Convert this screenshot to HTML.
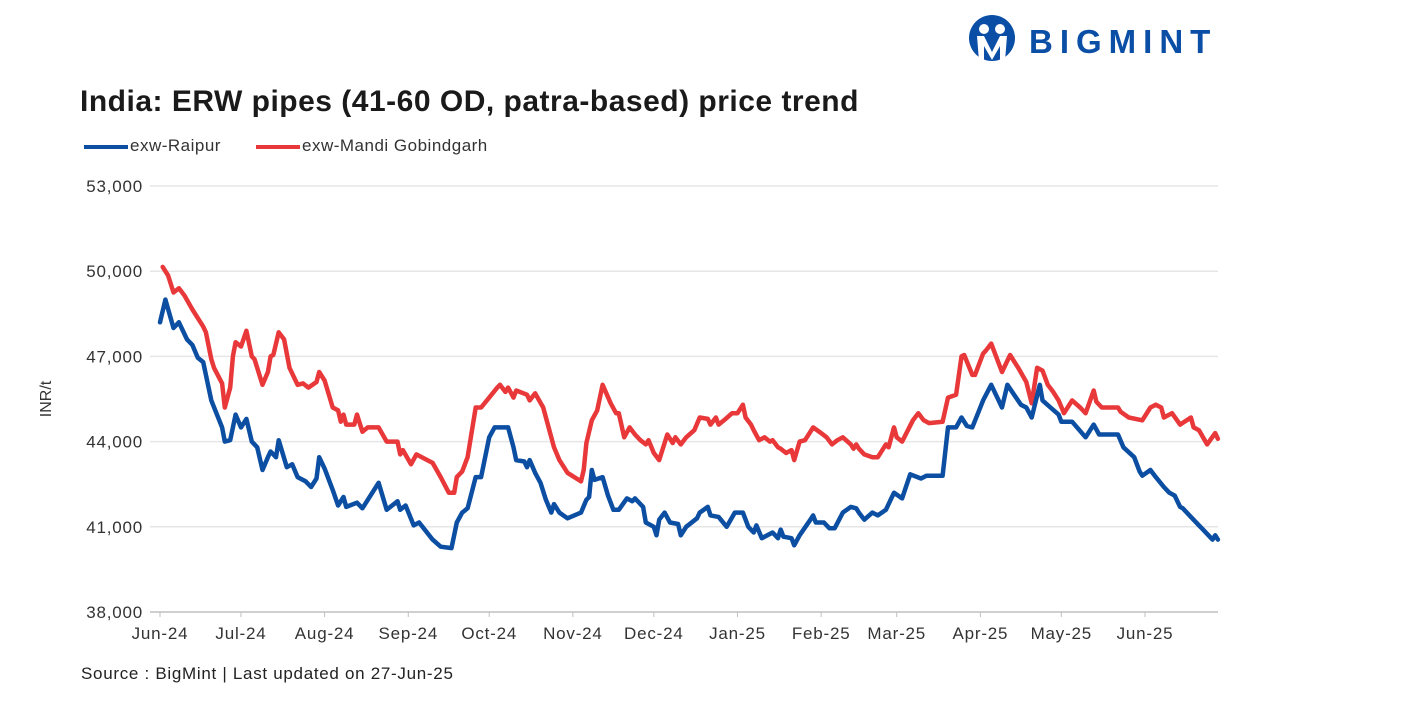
<!DOCTYPE html>
<html><head><meta charset="utf-8">
<style>
body{margin:0;background:#fff;width:1417px;height:709px;overflow:hidden;font-family:"Liberation Sans",Arial,sans-serif;}
#root{position:relative;width:1417px;height:709px;}
.abs{position:absolute;white-space:nowrap;}
</style></head><body>
<div id="root">
<div class="abs" style="left:968px;top:14px;width:260px;height:48px;">
<svg width="260" height="48">
<circle cx="24" cy="24" r="23" fill="#0a4ea6"/>
<circle cx="16" cy="15" r="5" fill="#fff"/><circle cx="32" cy="15" r="5" fill="#fff"/>
<path d="M9 22 L16 22 L24 38 L32 22 L39 22 L37 47 L32 47 L32 32 L24 46 L16 32 L16 47 L11 47 Z" fill="#fff"/>
<text x="61" y="39" font-family="Liberation Sans, sans-serif" font-weight="bold" font-size="33" fill="#0a4ea6" letter-spacing="7">BIGMINT</text>
</svg></div>
<div class="abs" style="left:80px;top:85px;font-size:30px;letter-spacing:0.5px;font-weight:bold;color:#1a1a1a;">India: ERW pipes (41-60 OD, patra-based) price trend</div>
<div class="abs" style="left:84px;top:136px;font-size:17px;letter-spacing:0.5px;color:#333;">
<span style="display:inline-block;width:44px;height:4px;background:#0b4ea2;vertical-align:middle;margin-right:2px;"></span>exw-Raipur</div>
<div class="abs" style="left:256px;top:136px;font-size:17px;letter-spacing:0.5px;color:#333;">
<span style="display:inline-block;width:44px;height:4px;background:#e8383a;vertical-align:middle;margin-right:2px;"></span>exw-Mandi Gobindgarh</div>
<div class="abs" style="left:29px;top:390px;font-size:16px;color:#333;transform:rotate(-90deg);">INR/t</div>
<svg id="chart" class="abs" style="left:0;top:0;" width="1417" height="709"></svg>
<div class="abs" style="left:81px;top:664px;font-size:17px;letter-spacing:0.7px;color:#222;">Source : BigMint | Last updated on 27-Jun-25</div>
</div>
<script>
const yTicks=[38000,41000,44000,47000,50000,53000];
const yTickLabels=["38,000","41,000","44,000","47,000","50,000","53,000"];
const xTickDays=[0,30,61,92,122,153,183,214,245,273,304,334,365];
const xTickLabels=["Jun-24","Jul-24","Aug-24","Sep-24","Oct-24","Nov-24","Dec-24","Jan-25","Feb-25","Mar-25","Apr-25","May-25","Jun-25"];
const raipurDays=[0,2,5,7,10,12,14,16,19,23,24,26,28,30,32,34,36,38,40,41,43,44,47,49,51,54,56,58,59,61,64,66,68,69,73,75,81,84,88,89,91,94,96,101,104,108,110,112,114,117,119,122,124,129,131,132,135,136,137,139,141,143,145,146,148,151,156,158,159,160,161,164,166,168,170,173,175,176,179,180,183,184,185,187,189,192,193,195,199,200,203,204,207,210,213,216,218,220,221,223,227,229,230,231,234,235,237,241,242,243,246,248,250,253,256,258,259,261,264,266,269,272,275,278,282,284,290,292,295,297,299,301,305,308,312,314,319,321,323,326,327,330,333,334,338,343,346,348,355,357,361,363,364,367,369,372,374,376,378,379,382,385,386,390,391,392];
const raipurValues=[48200,49000,48000,48200,47600,47400,46950,46800,45450,44500,44000,44050,44950,44500,44800,44000,43800,43000,43450,43650,43450,44050,43100,43200,42750,42600,42400,42700,43450,43050,42300,41750,42050,41700,41850,41650,42550,41600,41900,41600,41750,41050,41150,40550,40300,40250,41150,41500,41650,42750,42750,44150,44500,44500,43800,43350,43300,43100,43350,42900,42550,41950,41500,41800,41500,41300,41500,41950,42050,43000,42650,42750,42100,41600,41600,42000,41900,42000,41700,41150,41000,40700,41250,41500,41150,41100,40700,41000,41300,41500,41700,41400,41350,41000,41500,41500,41000,40800,41050,40600,40800,40600,40900,40650,40600,40350,40700,41250,41400,41150,41150,40950,40950,41500,41700,41650,41500,41250,41500,41400,41600,42200,42000,42850,42700,42800,42800,44500,44500,44850,44550,44500,45450,46000,45200,46000,45300,45200,44850,46000,45450,45200,44950,44700,44700,44150,44600,44250,44250,43800,43450,42950,42800,43000,42750,42400,42200,42100,41700,41650,41350,41050,40950,40550,40700,40550];
const mandiDays=[1,3,5,7,9,12,14,16,17,19,20,23,24,26,27,28,30,32,34,35,38,40,41,42,44,46,48,51,53,55,58,59,61,64,66,67,68,69,72,73,75,77,81,84,88,89,90,93,95,97,101,104,107,109,110,112,114,117,119,122,125,126,128,129,131,132,136,137,139,142,144,146,148,151,156,157,158,160,162,164,167,169,170,172,174,176,178,180,181,183,185,186,188,190,191,193,195,198,200,203,204,206,207,209,212,214,216,217,219,220,222,224,226,227,229,230,232,234,235,237,239,242,245,247,249,251,253,256,257,258,259,261,264,266,269,270,272,273,275,279,281,283,285,290,292,295,297,298,301,302,305,306,308,312,315,318,321,323,325,327,329,331,333,335,338,341,343,346,347,349,355,356,359,364,367,369,371,372,375,378,382,383,385,388,391,392];
const mandiValues=[50150,49850,49250,49400,49150,48650,48350,48050,47850,46900,46600,46050,45200,45900,47000,47500,47350,47900,47000,46900,46000,46450,47000,47050,47850,47600,46600,46000,46050,45900,46100,46450,46150,45200,45100,44700,44950,44600,44600,44950,44350,44500,44500,44000,44000,43550,43700,43200,43550,43450,43250,42750,42200,42200,42750,42950,43450,45200,45200,45550,45900,46000,45750,45900,45550,45800,45650,45450,45700,45200,44500,43800,43350,42900,42600,43000,43950,44750,45100,46000,45350,45000,45000,44150,44500,44250,44050,43900,44050,43600,43350,43650,44250,43950,44150,43900,44150,44400,44850,44800,44600,44850,44600,44750,45000,45000,45300,44850,44600,44400,44050,44150,44000,44050,43800,43750,43600,43700,43350,44000,44050,44500,44300,44150,43900,44050,44150,43900,43750,43900,43750,43550,43450,43450,43900,43800,44500,44150,44000,44750,45000,44750,44650,44700,45550,45650,47000,47050,46350,46350,47100,47200,47450,46450,47050,46600,46100,45350,46600,46500,46000,45750,45450,45000,45450,45200,45000,45800,45400,45200,45200,45050,44850,44750,45200,45300,45200,44850,45000,44600,44850,44500,44400,43900,44300,44100];

const NS="http://www.w3.org/2000/svg";
const svg=document.getElementById('chart');
const X0=160,PX_PER_DAY=(1145-160)/365,Y0=612,Y1=186,VMIN=38000,VMAX=53000;
function xScale(d){return X0+d*PX_PER_DAY;}
function yScale(v){return Y0-(v-VMIN)/(VMAX-VMIN)*(Y0-Y1);}
function mk(tag,attrs){const e=document.createElementNS(NS,tag);for(const k in attrs)e.setAttribute(k,attrs[k]);return e;}

yTicks.forEach((v,i)=>{
  const y=yScale(v);
  if(i>0){const g=mk('line',{x1:150,x2:1218,y1:y,y2:y,stroke:'#e6e6e6','stroke-width':1.5});
  
  
  svg.appendChild(g);}
  const t=mk('text',{x:143,y:y+6,'text-anchor':'end','font-size':17,'letter-spacing':0.8,fill:'#333','font-family':'Liberation Sans, sans-serif'});
  t.textContent=yTickLabels[i];
  
  
  svg.appendChild(t);
});
const ax=mk('line',{x1:150,x2:1218,y1:Y0,y2:Y0,stroke:'#bfbfbf','stroke-width':1.5});


svg.appendChild(ax);
xTickDays.forEach((d,i)=>{
  const x=xScale(d);
  const tk=mk('line',{x1:x,x2:x,y1:Y0,y2:Y0+5,stroke:'#bfbfbf','stroke-width':1});
  
  
  svg.appendChild(tk);
  const t=mk('text',{x:x,y:639,'text-anchor':'middle','font-size':17,'letter-spacing':0.8,fill:'#333','font-family':'Liberation Sans, sans-serif'});
  t.textContent=xTickLabels[i];
  
  
  svg.appendChild(t);
});
function drawLine(days,vals,color,name){
  const d=days.map((dd,i)=>(i?'L':'M')+xScale(dd).toFixed(1)+' '+yScale(vals[i]).toFixed(1)).join(' ');
  const p=mk('path',{d:d,fill:'none',stroke:color,'stroke-width':4.5,'stroke-linejoin':'round','stroke-linecap':'round'});
  
  
  svg.appendChild(p);
}
drawLine(mandiDays,mandiValues,'#e8383a','series-mandi-gobindgarh');
drawLine(raipurDays,raipurValues,'#0b4ea2','series-raipur');
</script>
</body></html>
